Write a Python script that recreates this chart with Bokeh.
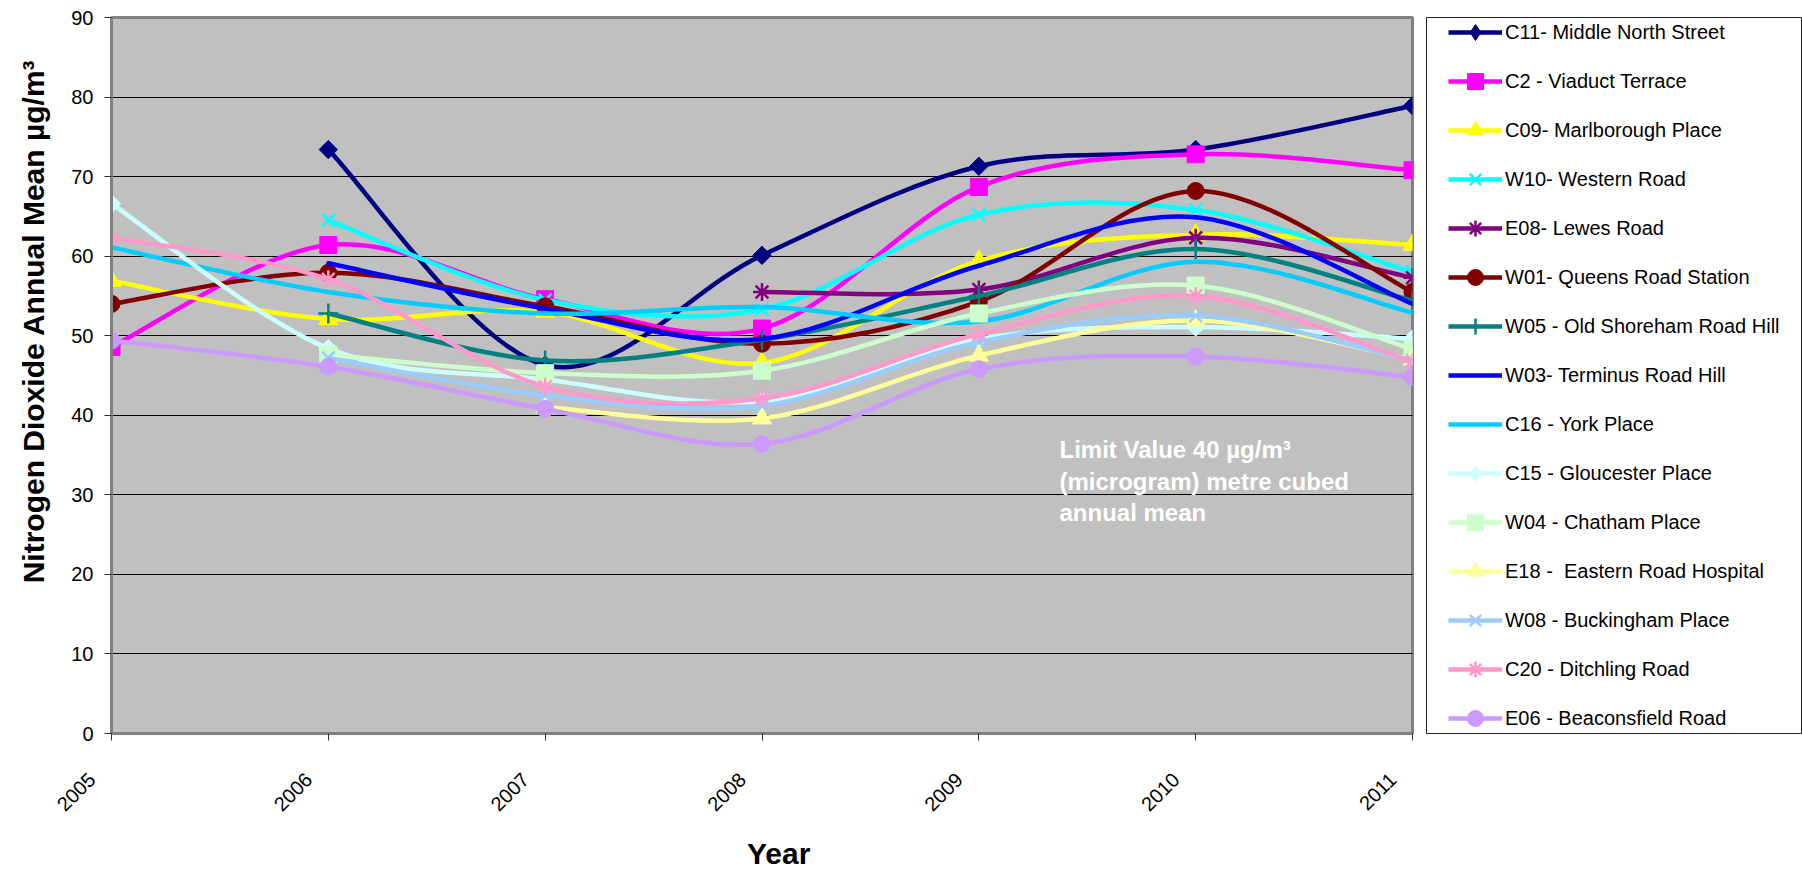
import math
from bokeh.plotting import figure
from bokeh.layouts import row
from bokeh.models import (ColumnDataSource, Range1d, FixedTicker, Legend, LegendItem, Label)
from bokeh.embed import file_html
from bokeh.resources import INLINE

# ---------------- data ----------------
years = [2005, 2006, 2007, 2008, 2009, 2010, 2011]

names = [
    "C11- Middle North Street",
    "C2 - Viaduct Terrace",
    "C09- Marlborough Place",
    "W10- Western Road",
    "E08- Lewes Road",
    "W01- Queens Road Station",
    "W05 - Old Shoreham Road Hill",
    "W03- Terminus Road Hill",
    "C16 - York Place",
    "C15 - Gloucester Place",
    "W04 - Chatham Place",
    "E18 -  Eastern Road Hospital",
    "W08 - Buckingham Place",
    "C20 - Ditchling Road",
    "E06 - Beaconsfield Road",
]

c11 = [None, 73.4, 46.3, 60.1, 71.3, 73.4, 78.9]
c2 = [48.6, 61.4, 54.6, 50.9, 68.7, 72.8, 70.8]
c09 = [56.9, 52.1, 53.0, 46.6, 59.4, 62.7, 61.4]
w10 = [None, 64.5, 54.5, 53.3, 65.2, 65.8, 58.0]
e08 = [None, None, None, 55.5, 55.8, 62.3, 57.3]
w01 = [54.0, 57.9, 53.7, 49.0, 54.3, 68.2, 55.5]
w05 = [None, 52.8, 46.9, 49.5, 55.0, 60.9, 54.4]
w03 = [None, 59.1, 53.4, 49.6, 58.8, 64.9, 54.0]
c16 = [61.1, 55.5, 52.8, 53.6, 51.8, 59.3, 52.9]
c15 = [66.6, 48.4, 44.5, 41.8, 49.6, 51.1, 49.6]
w04 = [None, 47.6, 45.3, 45.6, 52.8, 56.3, 48.3]
e18 = [None, None, 41.0, 39.6, 47.5, 51.9, 47.0]
w08 = [None, 47.2, 42.5, 41.2, 49.2, 52.5, 46.9]
c20 = [62.3, 57.1, 43.6, 42.1, 50.2, 55.0, 46.7]
e06 = [49.4, 46.1, 40.8, 36.4, 45.8, 47.4, 44.8]

series_values = [c11, c2, c09, w10, e08, w01, w05, w03, c16, c15, w04, e18, w08, c20, e06]

colors = ["#000080", "#FF00FF", "#FFFF00", "#00FFFF", "#800080", "#800000", "#008080",
          "#0000FF", "#00CCFF", "#CCFFFF", "#CCFFCC", "#FFFF99", "#99CCFF", "#FF99CC", "#CC99FF"]
markers = ["diamond", "square", "triangle", "x", "asterisk", "circle", "cross",
           None, None, "diamond", "square", "triangle", "x", "asterisk", "circle"]

y_ticks = [0, 10, 20, 30, 40, 50, 60, 70, 80, 90]
limit_lines = ["Limit Value 40 µg/m³", "(microgram) metre cubed", "annual mean"]
y_title = "Nitrogen Dioxide Annual Mean µg/m³"
x_title = "Year"

FONT = "Liberation Sans"
H = 874
NB = "\u00a0"


def add_markers(fig, xs, ys, mk, col, legend_only=False):
    if mk == "diamond":
        if legend_only:
            return fig.scatter(xs, ys, marker="diamond", size=18, fill_color=col, line_color=col)
        return fig.scatter(xs, ys, marker="square", angle=math.pi / 4, size=13,
                           fill_color=col, line_color=col)
    if mk in ("x", "asterisk"):
        return fig.scatter(xs, ys, marker=mk, size=18, line_color=col, line_width=2.5)
    if mk == "cross":
        return fig.scatter(xs, ys, marker="cross", size=20, line_color=col, line_width=2.5)
    if mk == "triangle":
        return fig.scatter(xs, ys, marker="triangle", size=19, fill_color=col, line_color=col)
    return fig.scatter(xs, ys, marker=mk, size=17, fill_color=col, line_color=col)


# ---------------- main chart ----------------
p = figure(width=1420, height=H, output_backend="svg", toolbar_location=None,
           x_range=Range1d(2005, 2011), y_range=Range1d(0, 90),
           min_border_left=111, min_border_right=8, min_border_top=17,
           min_border_bottom=H - 733)

p.background_fill_color = "#C0C0C0"
p.border_fill_color = "white"
p.outline_line_color = "#808080"
p.outline_line_width = 3

p.xgrid.visible = False
p.ygrid.grid_line_color = "black"
p.ygrid.grid_line_width = 1

p.xaxis.ticker = FixedTicker(ticks=years)
p.yaxis.ticker = FixedTicker(ticks=y_ticks)
p.xaxis.major_label_orientation = math.pi / 4
p.xaxis.major_label_overrides = {yr: str(yr) + NB * 5 for yr in years}
for ax in (p.xaxis, p.yaxis):
    ax.axis_line_color = "#808080"
    ax.axis_line_width = 3
    ax.major_tick_line_color = "#333333"
    ax.major_tick_line_width = 1
    ax.major_tick_out = 7
    ax.major_tick_in = 0
    ax.minor_tick_line_color = None
    ax.major_label_text_font = FONT
    ax.major_label_text_font_size = "20px"
    ax.major_label_text_color = "black"
    ax.axis_label_text_font = FONT
    ax.axis_label_text_font_style = "bold"
    ax.axis_label_text_font_size = "30px"
    ax.axis_label_text_color = "black"
p.yaxis.major_label_standoff = 11
p.xaxis.major_label_standoff = 16
p.yaxis.axis_label = NB * 13 + y_title
p.xaxis.axis_label = NB * 4 + x_title
p.yaxis.axis_label_standoff = 18
p.xaxis.axis_label_standoff = 11

for vals, col, mk in zip(series_values, colors, markers):
    pts = [(x, v) for x, v in zip(years, vals) if v is not None]
    seg = dict(x0=[], y0=[], x1=[], y1=[], cx0=[], cy0=[], cx1=[], cy1=[])
    n = len(pts)
    for i in range(n - 1):
        p0 = pts[i - 1] if i > 0 else pts[i]
        p1 = pts[i]
        p2 = pts[i + 1]
        p3 = pts[i + 2] if i + 2 < n else pts[i + 1]
        seg["x0"].append(p1[0]); seg["y0"].append(p1[1])
        seg["x1"].append(p2[0]); seg["y1"].append(p2[1])
        seg["cx0"].append(p1[0] + (p2[0] - p0[0]) / 6.0)
        seg["cy0"].append(p1[1] + (p2[1] - p0[1]) / 6.0)
        seg["cx1"].append(p2[0] - (p3[0] - p1[0]) / 6.0)
        seg["cy1"].append(p2[1] - (p3[1] - p1[1]) / 6.0)
    p.bezier(x0="x0", y0="y0", x1="x1", y1="y1", cx0="cx0", cy0="cy0",
             cx1="cx1", cy1="cy1", source=ColumnDataSource(seg), line_color=col,
             line_width=4.5, line_cap="round")
    if mk is not None:
        add_markers(p, [q[0] for q in pts], [q[1] for q in pts], mk, col)

for i, txt in enumerate(limit_lines):
    p.add_layout(Label(x=948, y=284 - 31.7 * i, x_units="screen", y_units="screen", text=txt,
                       text_font=FONT, text_font_style="bold", text_font_size="24px",
                       text_color="white", text_baseline="alphabetic", text_align="left"))

# ---------------- legend panel ----------------
q = figure(width=382, height=H, output_backend="svg", toolbar_location=None,
           x_range=Range1d(0, 1), y_range=Range1d(0, 1), x_axis_type=None, y_axis_type=None,
           min_border_left=6, min_border_right=0, min_border_top=17,
           min_border_bottom=H - 733)
q.grid.visible = False
q.outline_line_color = "#222222"
q.outline_line_width = 1
q.background_fill_color = "white"
q.border_fill_color = "white"

items = []
for name, col, mk in zip(names, colors, markers):
    rends = [q.line(x=[5, 6], y=[5, 5], line_color=col, line_width=4.5)]
    if mk is not None:
        rends.append(add_markers(q, [5], [5], mk, col, legend_only=True))
    items.append(LegendItem(label=name, renderers=rends))

legend = Legend(items=items, location=(22, -5), padding=0, margin=0, spacing=9,
                glyph_height=40, glyph_width=54, label_standoff=3,
                label_text_font=FONT, label_text_font_size="20px", label_text_color="black",
                border_line_alpha=0, background_fill_alpha=0)
q.add_layout(legend)

open("out.html", "w").write(file_html(row(p, q), INLINE))
